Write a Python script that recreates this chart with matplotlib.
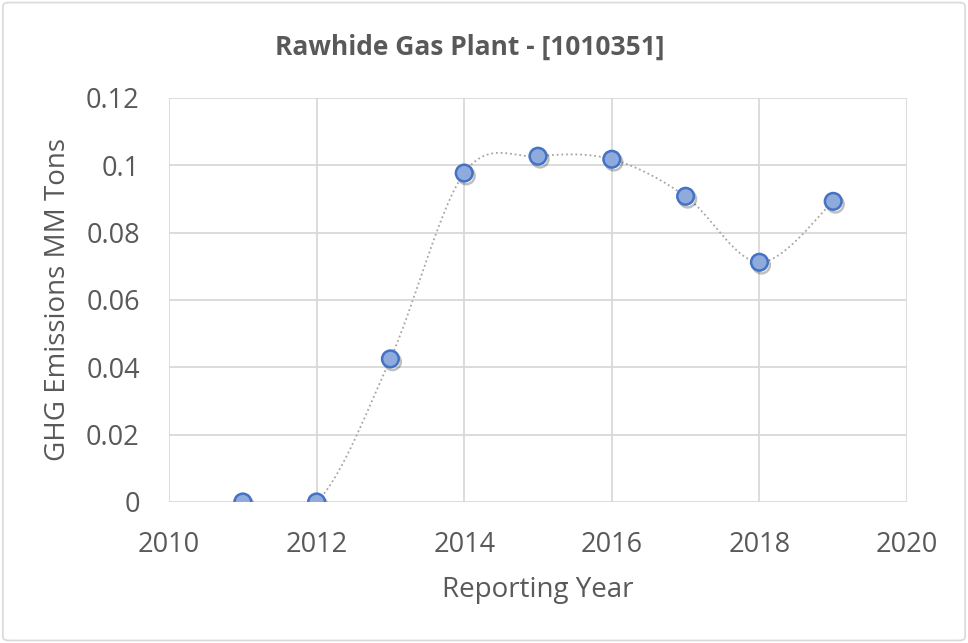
import numpy as np
import matplotlib
matplotlib.use("Agg")
import matplotlib.pyplot as plt
import matplotlib.patheffects as pe
from matplotlib.patches import FancyBboxPatch

years = [2011, 2012, 2013, 2014, 2015, 2016, 2017, 2018, 2019]
emissions = [0.0, 0.0, 0.0425, 0.0977, 0.1027, 0.1018, 0.0908, 0.0712, 0.0893]
title = "Rawhide Gas Plant - [1010351]"
xlabel = "Reporting Year"
ylabel = "GHG Emissions MM Tons"
xticks = [2010, 2012, 2014, 2016, 2018, 2020]
yticks = [0, 0.02, 0.04, 0.06, 0.08, 0.1, 0.12]
ytick_labels = ["0", "0.02", "0.04", "0.06", "0.08", "0.1", "0.12"]

plt.rcParams['font.family'] = ['Open Sans', 'DejaVu Sans']

def smooth(xs, ys, n=30):
    # Excel-style smoothing (Catmull-Rom Bezier segments)
    xs = np.asarray(xs, float); ys = np.asarray(ys, float)
    P = np.column_stack([xs, ys])
    out = []
    for i in range(len(P) - 1):
        p0 = P[i - 1] if i > 0 else P[i]
        p1 = P[i]; p2 = P[i + 1]
        p3 = P[i + 2] if i + 2 < len(P) else P[i + 1]
        c1 = p1 + (p2 - p0) / 6.0
        c2 = p2 - (p3 - p1) / 6.0
        t = np.linspace(0, 1, n)[:, None]
        seg = ((1 - t) ** 3) * p1 + 3 * ((1 - t) ** 2) * t * c1 + 3 * (1 - t) * t ** 2 * c2 + t ** 3 * p2
        out.append(seg if i == 0 else seg[1:])
    s = np.vstack(out)
    return s[:, 0], s[:, 1]

fig = plt.figure(figsize=(9.68, 6.43), dpi=100)
fig.patch.set_facecolor("white")
border = FancyBboxPatch((0.003, 0.004), 0.994, 0.992, boxstyle="round,pad=0,rounding_size=0.006",
                        transform=fig.transFigure, facecolor="none", edgecolor="#D9D9D9", linewidth=1.2)
fig.patches.append(border)

ax = fig.add_axes([0.1746, 0.2193, 0.7624, 0.6283])
sx, sy = smooth(years, emissions)
ax.plot(sx, sy, color="#A6A6A6", linestyle=(0, (1, 1.6)), linewidth=1.3, zorder=3)
ax.plot(years, emissions, linestyle="none", marker="o", markersize=12,
        markerfacecolor="#8FAADC", markeredgecolor="#4472C4", markeredgewidth=1.8, zorder=4,
        path_effects=[pe.SimpleLineShadow(offset=(1.5, -2), shadow_color="black", alpha=0.25), pe.Normal()])

ax.set_xlim(2010, 2020)
ax.set_ylim(0, 0.12)
ax.set_xticks(xticks)
ax.set_yticks(yticks)
ax.set_yticklabels(ytick_labels)
ax.grid(True, color="#D9D9D9", linewidth=1.3)
ax.set_axisbelow(True)
for s in ax.spines.values():
    s.set_visible(False)
ax.tick_params(length=0, labelsize=19.5, colors="#595959", pad=21)
ax.set_xlabel(xlabel, fontsize=20, color="#595959", labelpad=12)
ax.set_ylabel(ylabel, fontsize=20, color="#595959", labelpad=10)
fig.text(0.4855, 0.927, title, ha="center", va="center", fontsize=19, fontweight="bold", color="#595959")

fig.savefig("out.png", dpi=100)
